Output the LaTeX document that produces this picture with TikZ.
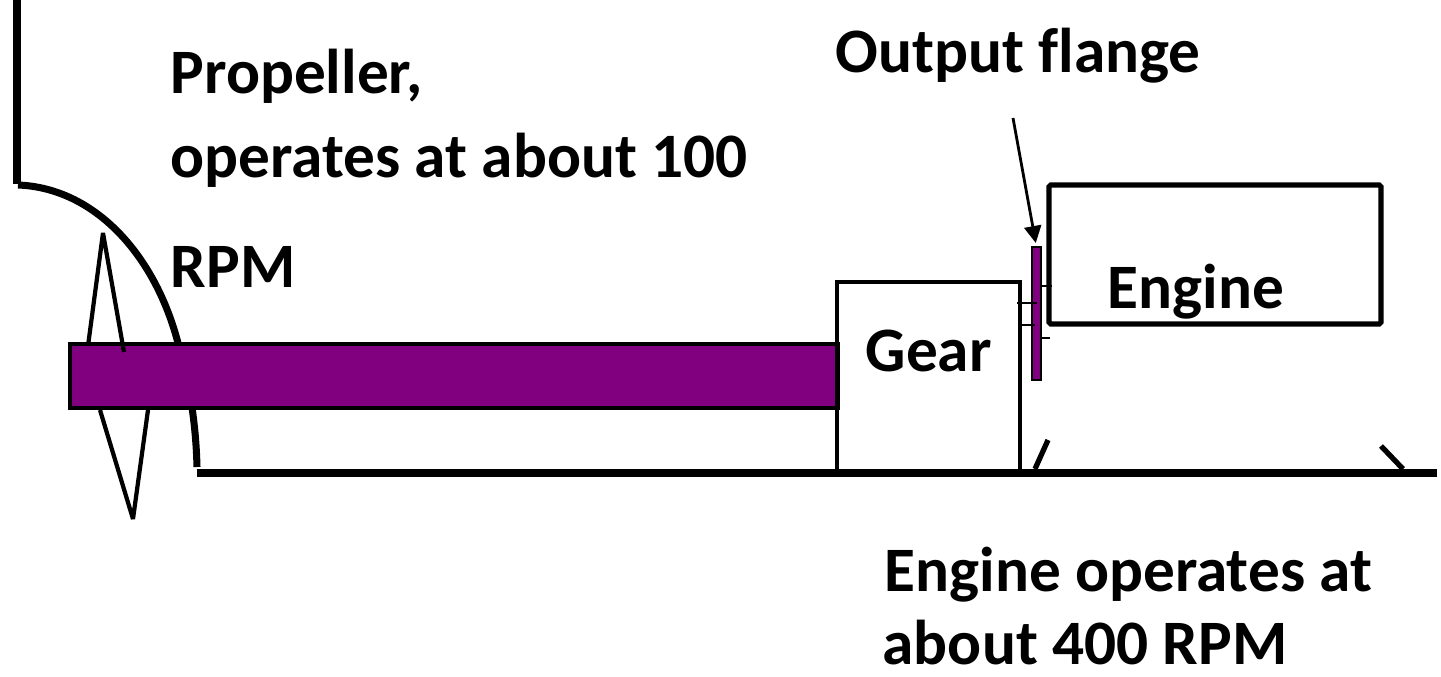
\documentclass[tikz,border=0pt]{standalone}
\usepackage{fontspec}
\setmainfont{Carlito}
\usetikzlibrary{positioning, arrows.meta}

\begin{document}
\begin{tikzpicture}[x=0.01cm, y=-0.01cm, >=latex, font=\fontsize{18pt}{21pt}\selectfont\bfseries]

    % Styles for the outlines and the labels
    \tikzset{
        hullline/.style={line width=2pt},
        bladeline/.style={line width=1.2pt, line join=bevel},
        tickline/.style={line width=0.8pt},
        label/.style={anchor=base west, inner sep=0pt},
        flangebox/.style={draw, line width=0.8pt, fill=shaftpurple, inner sep=0pt, outer sep=0pt,
            minimum width=0.09cm, minimum height=1.33cm}
    }
    \definecolor{shaftpurple}{HTML}{800080}

    \useasboundingbox (0,0) rectangle (1441,677);

    % ==========================================
    % Hull
    % ==========================================
    \draw[hullline] (17,0) -- (17,184);
    \draw[hullline] (18,185) .. controls (95,188) and (155,255) .. (178,343)
        .. controls (190,385) and (196,425) .. (197,467);
    \draw[line width=2.2pt] (197,473) -- (1437,473);

    % ==========================================
    % Propeller shaft
    % ==========================================
    \draw[line width=1.1pt, fill=shaftpurple] (70,344) rectangle (838,408);

    % Blades
    \draw[bladeline] (88,346) -- (103,233) -- (124,352);
    \draw[bladeline] (100,410) -- (133,519) -- (148,410);

    % ==========================================
    % Gear, flange and engine
    % ==========================================
    \draw[line width=1pt] (837,470) -- (837,282) -- (1020,282) -- (1020,470);
    \draw[line width=1.5pt, rounded corners=0.5pt] (1049,185) rectangle (1381,324);
    \node[flangebox] (flange) at (1036.5,313.5) {};

    % Bolts
    \draw[tickline] (1017,303) -- (1037,303);
    \draw[tickline] (1022,325) -- (1035,325);
    \draw[tickline] (1041,286) -- (1052,286);
    \draw[tickline] (1040,338) -- (1050,338);

    % Engine mounts
    \draw[line width=1.5pt] (1048,440) -- (1035,469);
    \draw[line width=1.5pt] (1381,446) -- (1403,469);

    % ==========================================
    % Labels
    % ==========================================
    \node[label] (proplabel) at (170,94) {Propeller,};
    \node[label] (speedlabel) at (170,178) {operates at about 100};
    \node[label] (rpmlabel) at (170,288) {RPM};
    \node[label] (flangelabel) at (835,73) {Output f\kern0ptlange};
    \node[label] (gearlabel) at (865,372) {Gear};
    \node[label] (enginelabel) at (1107,309) {Engine};
    \node[label] (enginespeed) at (884,592) {Engine operates at};
    \node[label] (enginerpm) at (882,665) {about 400 RPM};

    % Arrow to the flange
    \coordinate (arrowstart) at (1013,118);
    \draw[->, line width=0.8pt, >={Triangle[length=0.17cm,width=0.17cm]}, shorten >=0.04cm] (arrowstart) -- (flange.north);

\end{tikzpicture}
\end{document}
